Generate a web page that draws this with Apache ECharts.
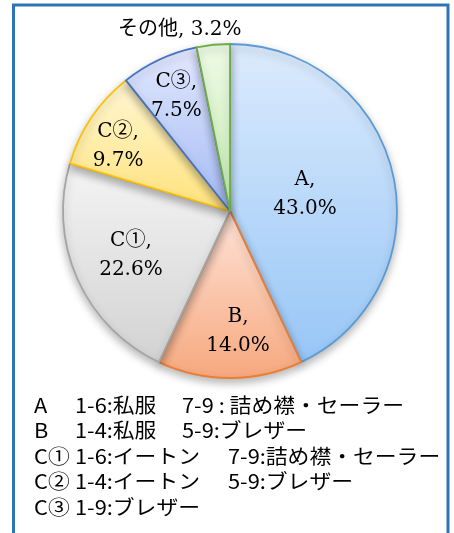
<!DOCTYPE html>
<html>
<head>
<meta charset="utf-8">
<script src="https://cdn.jsdelivr.net/npm/echarts@6/dist/echarts.min.js"></script>
<style>
  html, body { margin: 0; padding: 0; background: #fff; }
  #chart { width: 454px; height: 533px; }
</style>
</head>
<body>
<div id="chart"></div>
<script>
// slice names and shares (%), clockwise from 12 o'clock
const names = ['A', 'B', 'C①', 'C②', 'C③', 'その他'];
const shares = [43.0, 14.0, 22.6, 9.7, 7.5, 3.2];

// legend table under the pie
const legendCodes = ['A', 'B', 'C①', 'C②', 'C③'];
const legendFirst = ['1-6:私服', '1-4:私服', '1-6:イートン', '1-4:イートン', '1-9:ブレザー'];
const legendSecond = ['7-9 : 詰め襟・セーラー', '5-9:ブレザー', '7-9:詰め襟・セーラー', '5-9:ブレザー', ''];

// look
const fills = [
    ['#dcebfd', '#97c6f6'],
    ['#fee3d7', '#f6a87e'],
    ['#f4f4f4', '#d2d2d2'],
    ['#fff7d4', '#ffe27b'],
    ['#e2e8fe', '#a3baf3'],
    ['#eefae6', '#c6edb0'],
];
const edges = ['#5b9bd5', '#ed7d31', '#a5a5a5', '#ffc000', '#4472c4', '#70ad47'];
// label distance from centre as a fraction of the radius, plus a small nudge
const labelK = [0.46, 0.72, 0.65, 0.78, 0.76, 1.09];
const labelNudge = [[0, 0], [8, 0], [0, 0], [-4, 8], [0, 0], [-32, 0]];

const CX = 230, CY = 211, R = 167;
const serif = "'DejaVu Serif', 'Liberation Serif', 'Noto Sans CJK JP', serif";
const gothic = "'Noto Sans CJK JP', sans-serif";

const total = shares.reduce((a, b) => a + b, 0);
const midAngles = [];
let acc = 0;
shares.forEach(v => {
    midAngles.push((90 - (acc + v / 2) / total * 360) * Math.PI / 180);
    acc += v;
});

const chart = echarts.init(document.getElementById('chart'), null, { renderer: 'canvas' });

const legendText = [];
const addText = (x, y, text) => legendText.push({
    type: 'text', x: x, y: y, scaleX: 1.09,
    style: { text: text, font: '20px ' + gothic, fill: '#000', textVerticalAlign: 'middle' }
});
legendCodes.forEach((code, i) => {
    const y = 405 + i * 25.5;
    const wide = code.length > 1;
    addText(34, y, code);
    addText(75, y, legendFirst[i]);
    if (legendSecond[i]) addText(wide ? 228 : 182, y, legendSecond[i]);
});

chart.setOption({
    animation: false,
    backgroundColor: '#fff',
    graphic: [
        {
            type: 'rect', silent: true, z: 100,
            shape: { x: 13.5, y: 5, width: 434.5, height: 600 },
            style: { fill: 'none', stroke: '#2e75b6', lineWidth: 3 }
        },
        ...legendText
    ],
    series: [{
        type: 'pie',
        center: [CX, CY],
        radius: R,
        startAngle: 90,
        clockwise: true,
        avoidLabelOverlap: false,
        labelLine: { show: false },
        label: {
            show: true,
            position: 'inside',
            fontFamily: serif,
            fontSize: 20,
            lineHeight: 29,
            color: '#000',
            align: 'center',
            formatter: p => p.dataIndex === 5
                ? p.name + ', ' + p.value.toFixed(1) + '%'
                : p.name + ',\n' + p.value.toFixed(1) + '%'
        },
        labelLayout: p => {
            const i = p.dataIndex;
            const a = midAngles[i];
            return {
                x: CX + labelK[i] * R * Math.cos(a) + labelNudge[i][0],
                y: CY - labelK[i] * R * Math.sin(a) + labelNudge[i][1],
                align: 'center',
                verticalAlign: 'middle'
            };
        },
        itemStyle: {
            shadowBlur: 9,
            shadowOffsetY: 4,
            shadowColor: 'rgba(0,0,0,0.28)'
        },
        data: names.map((n, i) => ({
            name: n,
            value: shares[i],
            itemStyle: {
                color: new echarts.graphic.LinearGradient(0, 0, 0, 1, [
                    { offset: 0, color: fills[i][0] },
                    { offset: 1, color: fills[i][1] }
                ]),
                borderColor: edges[i],
                borderWidth: 1.8
            }
        }))
    }]
});
</script>
</body>
</html>
